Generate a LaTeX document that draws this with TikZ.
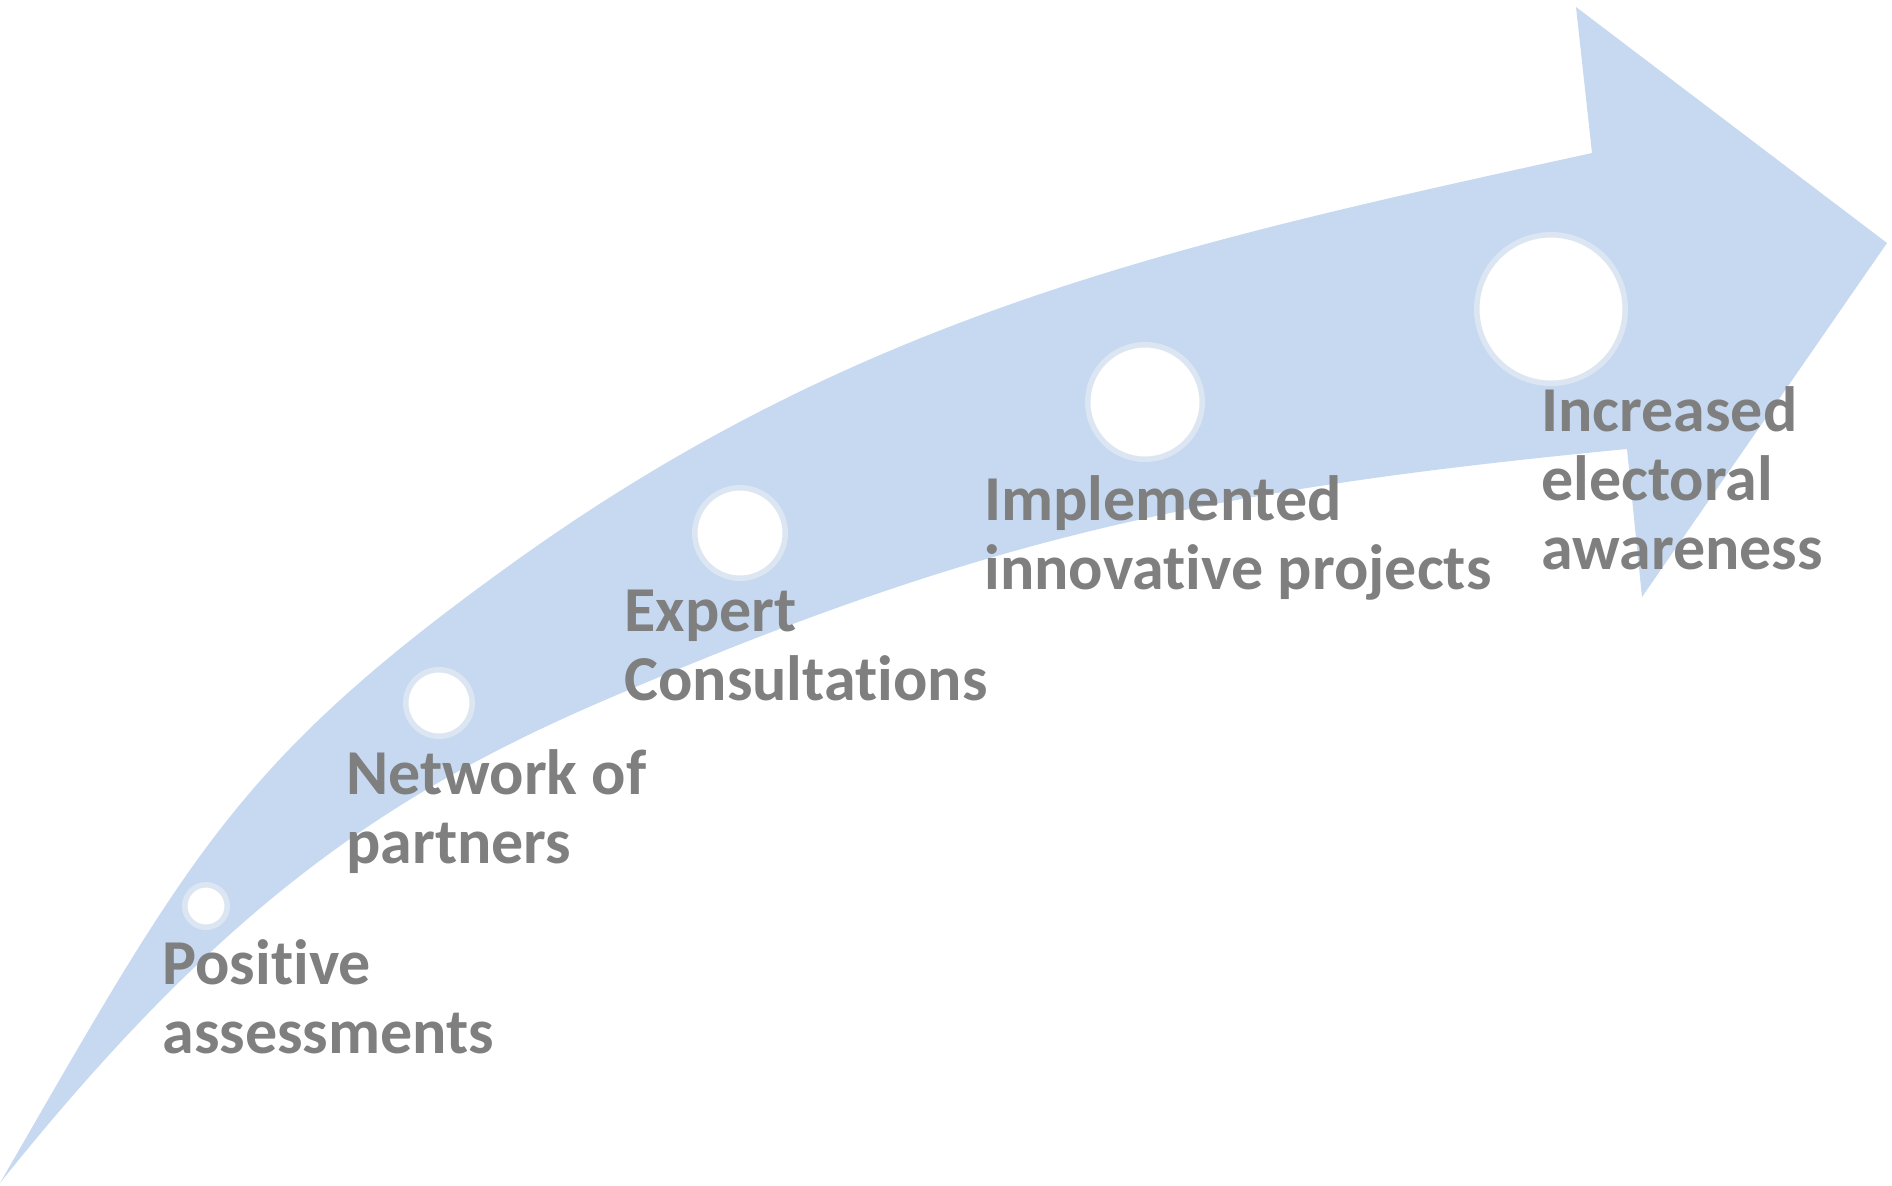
\documentclass[tikz,border=0pt]{standalone}
\usepackage{fontspec}
\setmainfont{Carlito}[Ligatures=NoCommon]
\definecolor{band}{HTML}{C6D9F0}
\definecolor{ring}{HTML}{DCE6F2}
\definecolor{txt}{HTML}{7F7F7F}
\tikzset{
  label/.style={anchor=base west, align=left, inner sep=0pt, text=txt,
    font=\fontsize{32}{34.3}\selectfont\bfseries},
  dot/.style={circle, fill=white, draw=ring, line width=2.75pt, inner sep=0pt}
}
\begin{document}
\begin{tikzpicture}[x=0.5pt, y=-0.5pt]
\useasboundingbox (0,0) rectangle (1892,1185);
% arrow body
\fill[band]
  (0,1183) .. controls (190,854) and (237,760.5) .. (517,560)
  .. controls (867,309.4) and (1192,241) .. (1592,153)
  -- (1576,7) -- (1887,243) -- (1642,597) -- (1627,449)
  .. controls (1207,489.7) and (985,536.6) .. (605,700)
  .. controls (385,794.6) and (220,908) .. (0,1183) -- cycle;
% circles
\node[dot, minimum size=21.25pt] (c1) at (206,906) {};
\node[dot, minimum size=33.25pt] (c2) at (439,703) {};
\node[dot, minimum size=45.25pt] (c3) at (740,533) {};
\node[dot, minimum size=57.25pt] (c4) at (1145,402) {};
\node[dot, minimum size=74.25pt] (c5) at (1551,309) {};
% labels
\node[label] (t1) at (162,1053) {Positive\\assessments};
\node[label] (t2) at (346,863) {Network of\\partners};
\node[label] (t3) at (624,700) {Expert\\Consultations};
\node[label] (t4) at (984,589) {Implemented\\innovative projects};
\node[label] (t5) at (1541,569) {Increased\\electoral\\awareness};
\end{tikzpicture}
\end{document}
